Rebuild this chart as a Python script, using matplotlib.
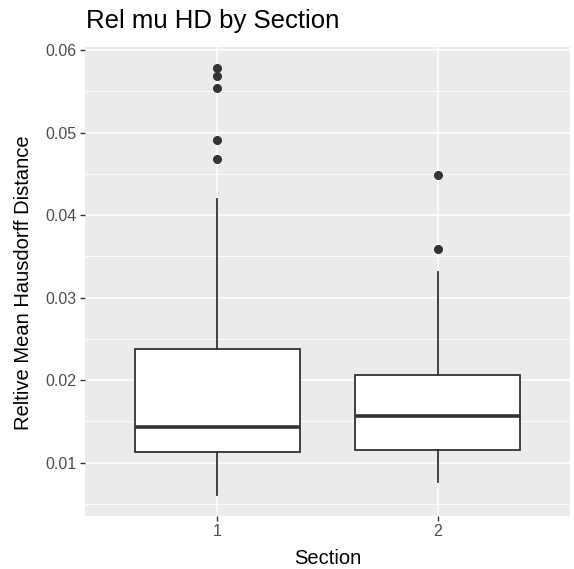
import matplotlib
matplotlib.use("Agg")
import matplotlib.pyplot as plt
from matplotlib.ticker import MultipleLocator, FixedLocator

plt.rcParams['font.family'] = ['Liberation Sans', 'DejaVu Sans']

sections = ["1", "2"]
whislo = [0.0061, 0.00758]
q1 = [0.01126, 0.01154]
median = [0.01432, 0.01565]
q3 = [0.02379, 0.02057]
whishi = [0.0419, 0.0331]
fliers = [[0.05779, 0.05686, 0.05537, 0.04907, 0.04674],
          [0.0448, 0.0359]]

W, H = 574, 569
fig = plt.figure(figsize=(W / 100, H / 100), dpi=100)
left, right, top, bottom = 85, 570, 47, 516
ax = fig.add_axes([left / W, 1 - bottom / H, (right - left) / W, (bottom - top) / H])
ax.set_facecolor('#EBEBEB')

stats = []
for i in range(len(sections)):
    stats.append(dict(med=median[i], q1=q1[i], q3=q3[i], whislo=whislo[i],
                      whishi=whishi[i], fliers=fliers[i], label=sections[i]))

line_c = '#333333'
ax.bxp(stats, positions=[1, 2], widths=0.75, patch_artist=True, showcaps=False,
       boxprops=dict(facecolor='white', edgecolor=line_c, linewidth=1.3),
       medianprops=dict(color=line_c, linewidth=2.6, solid_capstyle='butt'),
       whiskerprops=dict(color=line_c, linewidth=1.3),
       flierprops=dict(marker='o', markerfacecolor=line_c, markeredgecolor=line_c,
                       markersize=5.5, linestyle='none'),
       zorder=3)

# limits with ggplot-like expansion
allv = whislo + whishi + [v for f in fliers for v in f]
lo, hi = min(allv), max(allv)
pad = (hi - lo) * 0.05
ax.set_ylim(lo - pad, hi + pad)
ax.set_xlim(0.4, 2.6)

ax.yaxis.set_major_locator(FixedLocator([0.01, 0.02, 0.03, 0.04, 0.05, 0.06]))
ax.yaxis.set_minor_locator(MultipleLocator(0.005))
ax.set_yticklabels(["0.01", "0.02", "0.03", "0.04", "0.05", "0.06"])
ax.set_xticks([1, 2])
ax.set_xticklabels(sections)

ax.grid(which='major', color='white', linewidth=1.2, zorder=0)
ax.grid(which='minor', axis='y', color='white', linewidth=0.6, zorder=0)
ax.set_axisbelow(True)
for s in ax.spines.values():
    s.set_visible(False)

ax.tick_params(axis='both', which='major', length=3.5, width=1.0, color='#333333',
               labelcolor='#4D4D4D', labelsize=11.5, pad=2.5)
ax.tick_params(axis='both', which='minor', length=0)

fig.text((left + right) / 2 / W, 1 - 564 / H, "Section", fontsize=14.5,
         ha='center', va='baseline')
fig.text(23.5 / W, 1 - 283 / H, "Reltive Mean Hausdorff Distance", fontsize=14.5,
         rotation=90, ha='center', va='center')
fig.text(86 / W, 1 - 28 / H, "Rel mu HD by Section", fontsize=18.5,
         ha='left', va='baseline')

fig.savefig("out.png", dpi=100)
